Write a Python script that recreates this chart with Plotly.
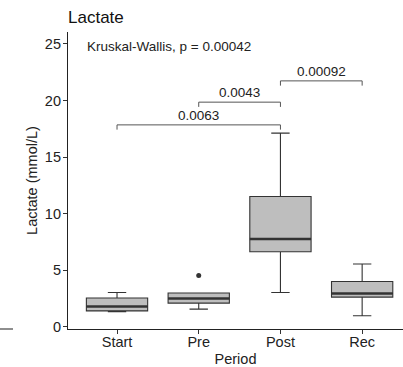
import plotly.graph_objects as go

# ---- data ----
periods = ["Start", "Pre", "Post", "Rec"]
q1 = [1.40, 2.09, 6.63, 2.62]
median = [1.79, 2.50, 7.75, 2.94]
q3 = [2.54, 2.98, 11.51, 4.00]
lower_fence = [1.32, 1.56, 3.03, 0.97]
upper_fence = [3.03, 2.98, 17.11, 5.54]
outlier_period = ["Pre"]
outlier_value = [4.53]

bracket_group1 = ["Start", "Pre", "Post"]
bracket_group2 = ["Post", "Post", "Rec"]
bracket_y = [17.84, 19.85, 21.73]
bracket_label = ["0.0063", "0.0043", "0.00092"]
kw_label = "Kruskal-Wallis, p = 0.00042"

y_ticks = [0, 5, 10, 15, 20, 25]

# ---- styling ----
FONT = "Liberation Sans, Arial, sans-serif"
BOX_W = 0.75
LINE = "#333333"
FILL = "#BEBEBE"
xpos = {p: i for i, p in enumerate(periods)}

fig = go.Figure()
fig.add_trace(go.Box(
    x=[xpos[p] for p in periods], q1=q1, median=median, q3=q3,
    lowerfence=lower_fence, upperfence=upper_fence,
    width=BOX_W, whiskerwidth=0.3,
    fillcolor=FILL, line=dict(color=LINE, width=1.1),
    boxpoints=False, showlegend=False, hoverinfo="skip",
))
# thicker median lines (ggplot fatten)
for p, m in zip(periods, median):
    i = xpos[p]
    fig.add_trace(go.Scatter(x=[i - BOX_W / 2, i + BOX_W / 2], y=[m, m], mode="lines",
                             line=dict(color=LINE, width=2.6), showlegend=False, hoverinfo="skip"))
# outlier
fig.add_trace(go.Scatter(x=[xpos[p] for p in outlier_period], y=outlier_value, mode="markers",
                         marker=dict(color=LINE, size=5), showlegend=False, hoverinfo="skip"))

# significance brackets
TICK = 0.42
for g1, g2, yb, lab in zip(bracket_group1, bracket_group2, bracket_y, bracket_label):
    a, b = xpos[g1], xpos[g2]
    fig.add_trace(go.Scatter(x=[a, a, b, b], y=[yb - TICK, yb, yb, yb - TICK], mode="lines",
                             line=dict(color="#555555", width=1), showlegend=False, hoverinfo="skip"))
    fig.add_annotation(x=(a + b) / 2, y=yb, text=lab, showarrow=False, yanchor="bottom",
                       yshift=0, font=dict(family=FONT, size=13.5, color="#222222"))

fig.add_annotation(x=-0.39, y=24.75, text=kw_label, showarrow=False, xanchor="left",
                   yanchor="middle", font=dict(family=FONT, size=13.5, color="#222222"))

# stray line fragment at left edge
fig.add_shape(type="line", xref="paper", yref="paper", x0=-68 / 335, x1=-55 / 335, y0=0, y1=0,
              line=dict(color="#444444", width=1.2))

fig.update_layout(
    width=403, height=367,
    margin=dict(l=68, r=0, t=32, b=38),
    plot_bgcolor="white", paper_bgcolor="white",
    font=dict(family=FONT, color="#333333"),
    title=dict(text="Lactate", x=68 / 403, xanchor="left", y=1 - 17 / 367, yanchor="middle",
               font=dict(family=FONT, size=17, color="#111111")),
    xaxis=dict(range=[-0.6, 3.5], tickvals=list(range(len(periods))), ticktext=periods,
               showline=True, linecolor="#222222", linewidth=1.2, ticks="outside", ticklen=4,
               tickcolor="#333333", showgrid=False, zeroline=False, ticklabelstandoff=-5,
               tickfont=dict(family=FONT, size=14.5, color="#222222"),
               title=dict(text="Period", standoff=5, font=dict(family=FONT, size=14.5, color="#222222"))),
    yaxis=dict(range=[-0.2, 26.05], tickvals=y_ticks,
               showline=True, linecolor="#222222", linewidth=1.2, ticks="outside", ticklen=4,
               tickcolor="#333333", showgrid=False, zeroline=False, ticklabelstandoff=-1,
               tickfont=dict(family=FONT, size=14.5, color="#222222"),
               title=dict(text="Lactate (mmol/L)", standoff=3, font=dict(family=FONT, size=14.5, color="#222222"))),
)

fig.write_html("out.html")
